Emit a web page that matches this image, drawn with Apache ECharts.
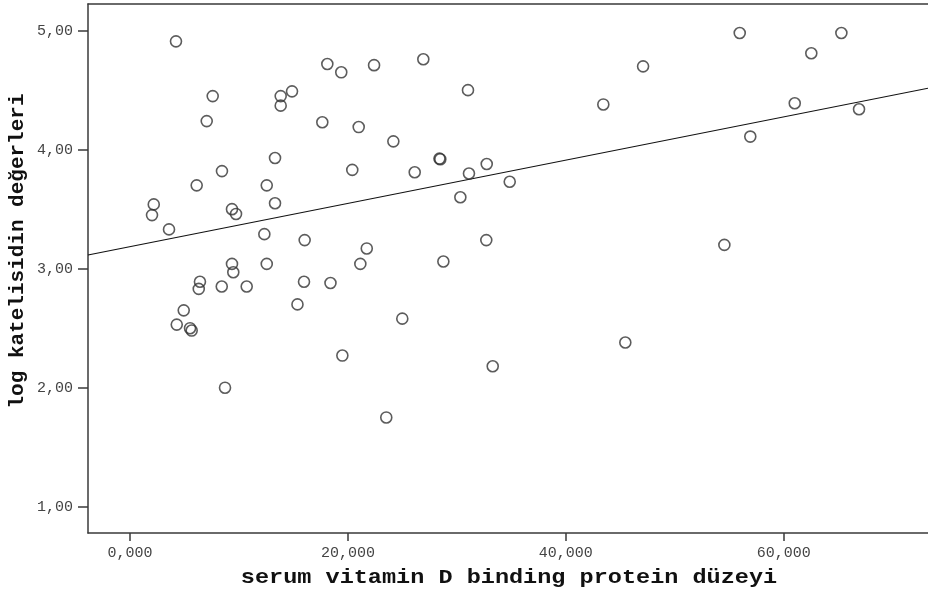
<!DOCTYPE html>
<html>
<head>
<meta charset="utf-8">
<script src="https://cdn.jsdelivr.net/npm/echarts@6/dist/echarts.min.js"></script>
<style>html,body{margin:0;padding:0;background:#fff}#c{width:928px;height:596px}</style>
</head>
<body>
<div id="c"></div>
<script>
// serum vitamin D binding protein level (x) vs log cathelicidin value (y)
const xValues = [4.22,7.59,7.04,13.83,14.87,13.83,17.65,18.11,19.39,22.40,26.92,31.02,20.99,24.17,13.31,8.44,6.12,12.55,13.31,2.18,2.02,9.36,9.73,3.58,12.33,16.03,20.40,26.13,28.40,28.48,32.74,31.11,34.85,30.32,32.70,21.73,21.14,28.76,9.36,12.55,9.48,6.42,6.31,8.42,10.71,15.97,18.40,15.37,4.93,4.29,5.51,5.66,8.72,24.99,19.49,33.29,23.52,43.44,47.09,55.96,65.29,62.53,61.01,66.91,56.93,54.55,45.46];
const yValues = [4.91,4.45,4.24,4.45,4.49,4.37,4.23,4.72,4.65,4.71,4.76,4.50,4.19,4.07,3.93,3.82,3.70,3.70,3.55,3.54,3.45,3.50,3.46,3.33,3.29,3.24,3.83,3.81,3.925,3.92,3.88,3.80,3.73,3.60,3.24,3.17,3.04,3.06,3.04,3.04,2.97,2.89,2.83,2.85,2.85,2.89,2.88,2.70,2.65,2.53,2.50,2.48,2.00,2.58,2.27,2.18,1.75,4.38,4.70,4.98,4.98,4.81,4.39,4.34,4.11,3.20,2.38];
// fit line end points read at the plot's left and right edges
const fitX = [-3.855, 73.24];
const fitY = [3.115, 4.516];
const xTicks = [0, 20, 40, 60];
const yTicks = [1, 2, 3, 4, 5];
const xRange = [-3.855, 73.24];
const yRange = [0.779, 5.224];

const points = xValues.map((x, i) => [x, yValues[i]]);
const fit = fitX.map((x, i) => [x, fitY[i]]);

const mono = "'Liberation Mono','DejaVu Sans Mono',monospace";
const axisCol = '#3a3a3a';

const chart = echarts.init(document.getElementById('c'), null, {renderer: 'canvas'});
chart.setOption({
  animation: false,
  backgroundColor: '#fff',
  grid: {left: 88, right: 0, top: 4, bottom: 63, containLabel: false},
  xAxis: [{
    type: 'value', min: xRange[0], max: xRange[1], position: 'bottom',
    splitLine: {show: false},
    axisLine: {show: true, onZero: false, lineStyle: {color: axisCol, width: 1.5}},
    axisTick: {show: true, customValues: xTicks, length: 8, lineStyle: {color: axisCol, width: 1.5}},
    axisLabel: {customValues: xTicks, margin: 13, color: '#444', fontFamily: mono, fontSize: 15,
      formatter: v => v.toFixed(3).replace('.', ',')}
  }, {
    type: 'value', min: xRange[0], max: xRange[1], position: 'top',
    splitLine: {show: false},
    axisLine: {show: true, onZero: false, lineStyle: {color: axisCol, width: 1.5}},
    axisTick: {show: false}, axisLabel: {show: false}
  }],
  yAxis: {
    type: 'value', min: yRange[0], max: yRange[1],
    splitLine: {show: false},
    axisLine: {show: true, onZero: false, lineStyle: {color: axisCol, width: 1.5}},
    axisTick: {show: true, customValues: yTicks, length: 10, lineStyle: {color: axisCol, width: 1.5}},
    axisLabel: {customValues: yTicks, margin: 15, color: '#444', fontFamily: mono, fontSize: 15,
      formatter: v => v.toFixed(2).replace('.', ',')}
  },
  graphic: [
    {type: 'text', x: 509, y: 578, scaleX: 1.12, originX: 0, originY: 0,
      style: {text: 'serum vitamin D binding protein düzeyi', font: 'bold 21px ' + mono, fill: '#111', align: 'center', verticalAlign: 'middle'}},
    {type: 'text', x: 18, y: 251, rotation: Math.PI / 2,
      style: {text: 'log katelisidin değerleri', font: 'bold 21px ' + mono, fill: '#111', align: 'center', verticalAlign: 'middle'}}
  ],
  series: [{
    type: 'line', data: fit, showSymbol: false, symbol: 'none',
    lineStyle: {color: '#111', width: 1.2}, silent: true, z: 2
  }, {
    type: 'scatter', data: points, symbol: 'circle', symbolSize: 11,
    itemStyle: {color: 'rgba(255,255,255,0)', borderColor: '#333', borderWidth: 1.6}, z: 3
  }]
});
</script>
</body>
</html>
